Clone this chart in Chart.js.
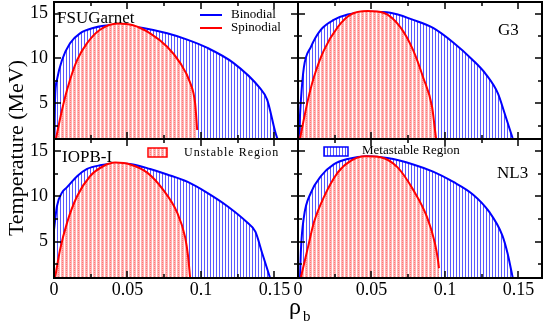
<!DOCTYPE html>
<html>
<head>
<meta charset="utf-8">
<script src="https://cdn.jsdelivr.net/npm/chart.js@4.4.0/dist/chart.umd.min.js"></script>
<style>
  html, body { margin: 0; padding: 0; background: #fff; }
  #wrap { position: relative; width: 545px; height: 327px; }
  #wrap canvas { position: absolute; left: 0; top: 0; }
</style>
</head>
<body>
<div id="wrap">
  <canvas id="fsu" width="545" height="327"></canvas>
  <canvas id="g3" width="545" height="327"></canvas>
  <canvas id="iopb" width="545" height="327"></canvas>
  <canvas id="nl3" width="545" height="327"></canvas>
</div>
<script>
// axis ticks
const rhoTicks = [0, 0.05, 0.1, 0.15];
const rhoTickLabels = ['0', '0.05', '0.1', '0.15'];
const rhoMinor = [0.025, 0.075, 0.125];
const tempTicks = [5, 10, 15];
const tempTickLabels = ['5', '10', '15'];
const tempMinor = [2.5, 7.5, 12.5];

// FSUGarnet
const fsuBinRho = [0.0003, 0.0007, 0.002, 0.0054, 0.0109, 0.0177, 0.0266, 0.038, 0.0497, 0.0606, 0.077, 0.0906, 0.104, 0.122, 0.140, 0.145, 0.1505, 0.152];
const fsuBinT   = [1.0, 5.4, 7.6, 9.8, 11.7, 12.8, 13.4, 13.7, 13.6, 13.4, 12.8, 12.1, 11.2, 9.5, 6.7, 5.4, 1.8, 1.0];
const fsuSpinRho = [0.0014, 0.0054, 0.0089, 0.0157, 0.0225, 0.0313, 0.0436, 0.0538, 0.0654, 0.077, 0.0858, 0.0926, 0.096, 0.0974];
const fsuSpinT   = [1.1, 4.2, 6.5, 9.8, 11.7, 13.2, 13.9, 13.7, 12.8, 11.3, 9.5, 7.3, 5.0, 2.0];

// G3
const g3BinRho = [0.0005, 0.002, 0.004, 0.0088, 0.0155, 0.0243, 0.0338, 0.0493, 0.0628, 0.0784, 0.0919, 0.1054, 0.119, 0.128, 0.136, 0.1405, 0.146];
const g3BinT   = [1.0, 5.4, 9.0, 11.3, 13.2, 14.3, 14.9, 15.2, 15.1, 14.3, 13.4, 11.8, 9.8, 8.2, 6.1, 3.9, 1.1];
const g3SpinRho = [0.0014, 0.0068, 0.0108, 0.0176, 0.027, 0.0358, 0.0473, 0.0581, 0.0696, 0.0784, 0.0851, 0.0912, 0.0932, 0.0939];
const g3SpinT   = [1.1, 5.4, 7.9, 10.9, 13.5, 14.9, 15.3, 15.1, 13.5, 10.9, 7.9, 4.6, 2.0, 1.1];

// IOPB-I
const iopbBinRho = [0.0, 0.002, 0.0054, 0.0089, 0.0157, 0.0225, 0.0313, 0.0429, 0.0538, 0.0654, 0.077, 0.0906, 0.104, 0.118, 0.1315, 0.137, 0.1417, 0.147];
const iopbBinT   = [6.3, 8.9, 10.4, 11.0, 12.2, 13.0, 13.4, 13.6, 13.5, 13.0, 12.4, 11.6, 10.4, 8.9, 7.1, 6.1, 3.7, 1.0];
const iopbSpinRho = [0.0007, 0.0041, 0.0089, 0.0157, 0.0245, 0.0334, 0.0416, 0.0518, 0.0634, 0.0743, 0.0838, 0.0892, 0.0913, 0.0926];
const iopbSpinT   = [1.0, 4.1, 7.1, 10.0, 12.2, 13.3, 13.7, 13.5, 12.6, 10.7, 8.2, 5.5, 3.3, 1.0];

// NL3
const nl3BinRho = [0.0014, 0.002, 0.004, 0.0088, 0.0155, 0.0243, 0.0338, 0.0473, 0.0608, 0.0784, 0.0919, 0.1054, 0.119, 0.130, 0.139, 0.1426, 0.146];
const nl3BinT   = [1.1, 4.1, 7.7, 10.4, 12.2, 13.5, 14.1, 14.4, 14.2, 13.5, 12.7, 11.6, 10.2, 8.3, 5.7, 3.7, 1.1];
const nl3SpinRho = [0.002, 0.0068, 0.0108, 0.0176, 0.027, 0.0358, 0.0459, 0.0561, 0.0676, 0.0784, 0.0878, 0.0932, 0.0953, 0.0959];
const nl3SpinT   = [1.1, 4.4, 7.1, 9.9, 12.6, 13.9, 14.4, 14.3, 13.2, 10.7, 7.7, 4.8, 2.9, 2.1];

const serif = "'Liberation Serif', 'Times New Roman', serif";
const W = 545, H = 327;

// hatch patterns for the two regions
function makeRedPattern() {
    const c = document.createElement('canvas');
    c.width = 4; c.height = 4;
    const g = c.getContext('2d');
    g.fillStyle = 'rgb(255,180,180)';
    g.fillRect(0, 0, 4, 4);
    g.fillStyle = '#ffffff';
    g.fillRect(0, 0, 1, 4);
    g.fillStyle = 'rgb(255,120,120)';
    g.fillRect(2, 0, 1, 1);
    g.fillRect(2, 2, 1, 1);
    return g.createPattern(c, 'repeat');
}
function makeBluePattern() {
    const c = document.createElement('canvas');
    c.width = 3; c.height = 1;
    const g = c.getContext('2d');
    g.fillStyle = 'rgb(90,90,255)';
    g.fillRect(0, 0, 1, 1);
    return g.createPattern(c, 'repeat');
}
const redPattern = makeRedPattern();
const bluePattern = makeBluePattern();

function toPoints(xs, ys) {
    return xs.map((v, i) => ({ x: v, y: ys[i] }));
}

// inward ticks on all four sides plus the frame
const frameTicks = {
    id: 'frameTicks',
    afterDatasetsDraw(chart) {
        const { ctx, chartArea: a, scales: { x, y } } = chart;
        ctx.save();
        ctx.strokeStyle = '#000';
        ctx.lineWidth = 1.5;
        ctx.beginPath();
        const vTick = (v, len) => {
            const px = Math.round(x.getPixelForValue(v));
            ctx.moveTo(px, a.bottom); ctx.lineTo(px, a.bottom - len);
            ctx.moveTo(px, a.top); ctx.lineTo(px, a.top + len);
        };
        const hTick = (v, len) => {
            const py = Math.round(y.getPixelForValue(v));
            ctx.moveTo(a.left, py); ctx.lineTo(a.left + len, py);
            ctx.moveTo(a.right, py); ctx.lineTo(a.right - len, py);
        };
        rhoTicks.forEach(v => vTick(v, 7));
        rhoMinor.forEach(v => vTick(v, 4));
        tempTicks.forEach(v => hTick(v, 7));
        tempMinor.forEach(v => hTick(v, 4));
        ctx.stroke();
        ctx.lineWidth = 2;
        ctx.strokeRect(a.left, a.top, a.right - a.left, a.bottom - a.top);
        ctx.restore();
    }
};

function textPlugin(draw) {
    return { id: 'extraText', afterDraw(chart) { const ctx = chart.ctx; ctx.save(); draw(ctx); ctx.restore(); } };
}

// fix the size of a shown axis so the plot area lands where it should
function fixAxis(scale, size) {
    if (!scale.options.display) return;
    if (scale.isHorizontal()) scale.height = size; else scale.width = size;
    scale.paddingLeft = 0; scale.paddingRight = 0;
    scale.paddingTop = 0; scale.paddingBottom = 0;
}

function panelChart(id, p) {
    return new Chart(document.getElementById(id), {
        type: 'line',
        data: {
            datasets: [
                {
                    label: 'Spinodial',
                    data: toPoints(p.spinRho, p.spinT),
                    borderColor: 'rgb(255,0,0)',
                    backgroundColor: redPattern,
                    fill: 'start',
                    borderWidth: 2,
                    pointRadius: 0,
                    cubicInterpolationMode: 'monotone'
                },
                {
                    label: 'Binodial',
                    data: toPoints(p.binRho, p.binT),
                    borderColor: 'rgb(0,0,255)',
                    backgroundColor: bluePattern,
                    fill: 'start',
                    borderWidth: 2,
                    pointRadius: 0,
                    cubicInterpolationMode: 'monotone'
                }
            ]
        },
        options: {
            animation: false,
            responsive: false,
            devicePixelRatio: 1,
            layout: { padding: p.padding },
            plugins: { legend: { display: false }, tooltip: { enabled: false } },
            scales: {
                x: {
                    type: 'linear',
                    min: 0,
                    max: 0.166,
                    display: p.showX,
                    grid: { display: false, drawTicks: false },
                    border: { display: false },
                    afterBuildTicks: s => { s.ticks = rhoTicks.map(v => ({ value: v })); },
                    afterFit: s => fixAxis(s, 49),
                    ticks: {
                        padding: 1,
                        color: '#000',
                        font: { family: serif, size: 18 },
                        maxRotation: 0,
                        callback: (v, i) => rhoTickLabels[i]
                    }
                },
                y: {
                    type: 'linear',
                    min: 1,
                    max: 16.3,
                    display: p.showY,
                    grid: { display: false, drawTicks: false },
                    border: { display: false },
                    afterBuildTicks: s => { s.ticks = tempTicks.map(v => ({ value: v })); },
                    afterFit: s => fixAxis(s, 54),
                    ticks: {
                        padding: 6,
                        color: '#000',
                        font: { family: serif, size: 18 },
                        callback: (v, i) => tempTickLabels[i]
                    }
                }
            }
        },
        plugins: [frameTicks, textPlugin(p.extra)]
    });
}

// panel rectangles: left 54..298, right 298..542, top 2..139, bottom 139..278
panelChart('fsu', {
    binRho: fsuBinRho, binT: fsuBinT, spinRho: fsuSpinRho, spinT: fsuSpinT,
    showX: false, showY: true,
    padding: { left: 0, top: 2, right: W - 298, bottom: H - 139 },
    extra: ctx => {
        ctx.fillStyle = '#000';
        ctx.textBaseline = 'middle';
        ctx.font = '17px ' + serif;
        ctx.fillText('FSUGarnet', 57, 19);
        ctx.lineWidth = 2;
        ctx.strokeStyle = 'rgb(0,0,255)';
        ctx.beginPath(); ctx.moveTo(200, 15); ctx.lineTo(222, 15); ctx.stroke();
        ctx.strokeStyle = 'rgb(255,0,0)';
        ctx.beginPath(); ctx.moveTo(200, 28); ctx.lineTo(222, 28); ctx.stroke();
        ctx.font = '13px ' + serif;
        ctx.fillText('Binodial', 231, 15);
        ctx.fillText('Spinodial', 231, 28);
    }
});

panelChart('g3', {
    binRho: g3BinRho, binT: g3BinT, spinRho: g3SpinRho, spinT: g3SpinT,
    showX: false, showY: false,
    padding: { left: 298, top: 2, right: W - 542, bottom: H - 139 },
    extra: ctx => {
        ctx.fillStyle = '#000';
        ctx.textBaseline = 'middle';
        ctx.font = '17px ' + serif;
        ctx.fillText('G3', 498, 31);
    }
});

panelChart('iopb', {
    binRho: iopbBinRho, binT: iopbBinT, spinRho: iopbSpinRho, spinT: iopbSpinT,
    showX: true, showY: true,
    padding: { left: 0, top: 139, right: W - 298, bottom: 0 },
    extra: ctx => {
        ctx.fillStyle = '#000';
        ctx.textBaseline = 'middle';
        ctx.font = '17px ' + serif;
        ctx.fillText('IOPB-I', 62, 158);
        // unstable region legend
        ctx.fillStyle = redPattern;
        ctx.fillRect(148, 148, 19, 9);
        ctx.strokeStyle = 'rgb(255,0,0)';
        ctx.lineWidth = 1.5;
        ctx.strokeRect(148, 148, 19, 9);
        ctx.fillStyle = '#000';
        ctx.font = '12px ' + serif;
        ctx.letterSpacing = '1px';
        ctx.fillText('Unstable Region', 184, 153);
        ctx.letterSpacing = '0px';
        // y axis title
        ctx.save();
        ctx.translate(17, 148);
        ctx.rotate(-Math.PI / 2);
        ctx.textAlign = 'center';
        ctx.font = '22px ' + serif;
        ctx.fillText('Temperature (MeV)', 0, 0);
        ctx.restore();
        // x axis title
        ctx.textBaseline = 'alphabetic';
        ctx.font = '24px ' + serif;
        ctx.fillText('\u03c1', 289, 314);
        ctx.font = '15px ' + serif;
        ctx.fillText('b', 303, 321);
    }
});

panelChart('nl3', {
    binRho: nl3BinRho, binT: nl3BinT, spinRho: nl3SpinRho, spinT: nl3SpinT,
    showX: true, showY: false,
    padding: { left: 298, top: 139, right: W - 542, bottom: 0 },
    extra: ctx => {
        ctx.fillStyle = '#000';
        ctx.textBaseline = 'middle';
        ctx.font = '17px ' + serif;
        ctx.fillText('NL3', 497, 174);
        // metastable region legend
        ctx.fillStyle = bluePattern;
        ctx.fillRect(324, 147, 24, 9);
        ctx.strokeStyle = 'rgb(0,0,255)';
        ctx.lineWidth = 1.5;
        ctx.strokeRect(324, 147, 24, 9);
        ctx.fillStyle = '#000';
        ctx.font = '13px ' + serif;
        ctx.fillText('Metastable Region', 362, 151);
    }
});
</script>
</body>
</html>
